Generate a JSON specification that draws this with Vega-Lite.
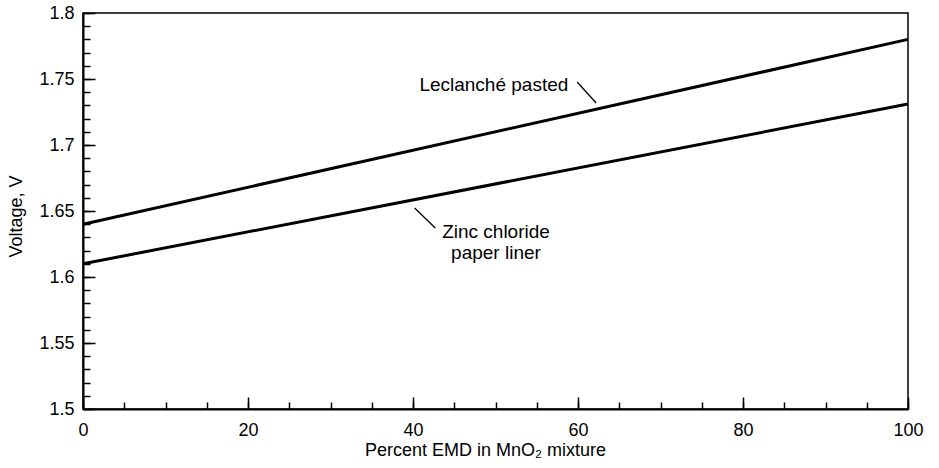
{
  "$schema": "https://vega.github.io/schema/vega-lite/v6.json",
  "autosize": "none",
  "width": 825,
  "height": 396,
  "padding": {"left": 83, "top": 13, "right": 31, "bottom": 59},
  "background": "white",
  "config": {
    "font": "Liberation Sans",
    "view": {"stroke": "black", "strokeWidth": 1.5},
    "axis": {"labelColor": "black", "titleColor": "black", "domainColor": "black", "tickColor": "black", "grid": false, "labelFont": "Liberation Sans", "titleFont": "Liberation Sans", "titleFontWeight": "normal"}
  },
  "datasets": {
    "lines": [
      {"series": "Leclanché pasted", "pct": 0, "v": 1.64},
      {"series": "Leclanché pasted", "pct": 100, "v": 1.78},
      {"series": "Zinc chloride paper liner", "pct": 0, "v": 1.61},
      {"series": "Zinc chloride paper liner", "pct": 100, "v": 1.731}
    ],
    "leaders": [
      {"series": "Leclanché pasted", "x": 59.9, "y": 1.7477, "x2": 62.2, "y2": 1.7318},
      {"series": "Zinc chloride paper liner", "x": 40.2, "y": 1.6523, "x2": 42.7, "y2": 1.6371}
    ],
    "labels": [
      {"label": "Leclanché pasted", "x": 49.8, "y": 1.7455},
      {"label": "Zinc chloride", "x": 50.06, "y": 1.6341},
      {"label": "paper liner", "x": 50.06, "y": 1.6182}
    ]
  },
  "resolve": {"axis": {"x": "independent", "y": "independent"}},
  "layer": [
    {
      "data": {"name": "lines"},
      "mark": {"type": "line", "color": "black", "strokeWidth": 3},
      "encoding": {
        "x": {"field": "pct", "type": "quantitative", "scale": {"domain": [0, 100], "nice": false},
          "axis": {"orient": "bottom", "values": [0, 20, 40, 60, 80, 100], "tickSize": -12, "tickWidth": 1.5, "domainWidth": 2, "labelFontSize": 18, "labelPadding": 24, "labelFlush": false,
            "title": "Percent EMD in MnO₂ mixture", "titleFontSize": 18, "titleX": 402, "titleY": 41, "titleAlign": "center", "titleBaseline": "middle"}},
        "y": {"field": "v", "type": "quantitative", "scale": {"domain": [1.5, 1.8], "nice": false, "zero": false},
          "axis": {"orient": "left", "values": [1.5, 1.55, 1.6, 1.65, 1.7, 1.75, 1.8], "tickSize": -12, "tickWidth": 1.5, "domainWidth": 2, "labelFontSize": 18, "labelPadding": 21, "labelFlush": false, "labelExpr": "format(datum.value, '.3~f')",
            "title": "Voltage, V", "titleFontSize": 18, "titleX": -67, "titleY": 203, "titleAngle": 270, "titleAlign": "center", "titleBaseline": "middle"}},
        "detail": {"field": "series", "type": "nominal"}
      }
    },
    {
      "data": {"name": "leaders"},
      "mark": {"type": "rule", "color": "black", "strokeWidth": 1.3},
      "encoding": {
        "x": {"field": "x", "type": "quantitative",
          "axis": {"orient": "bottom", "values": [0, 5, 10, 15, 20, 25, 30, 35, 40, 45, 50, 55, 60, 65, 70, 75, 80, 85, 90, 95, 100], "tickSize": -7, "tickWidth": 1.5, "labels": false, "domain": false, "title": null}},
        "y": {"field": "y", "type": "quantitative",
          "axis": {"orient": "left", "values": [1.5, 1.51, 1.52, 1.53, 1.54, 1.55, 1.56, 1.57, 1.58, 1.59, 1.6, 1.61, 1.62, 1.63, 1.64, 1.65, 1.66, 1.67, 1.68, 1.69, 1.7, 1.71, 1.72, 1.73, 1.74, 1.75, 1.76, 1.77, 1.78, 1.79, 1.8], "tickSize": -7, "tickWidth": 1.5, "labels": false, "domain": false, "title": null}},
        "x2": {"field": "x2"},
        "y2": {"field": "y2"}
      }
    },
    {
      "data": {"name": "labels"},
      "mark": {"type": "text", "fontSize": 19, "font": "Liberation Sans", "color": "black", "align": "center", "baseline": "middle"},
      "encoding": {
        "x": {"field": "x", "type": "quantitative", "axis": null},
        "y": {"field": "y", "type": "quantitative", "axis": null},
        "text": {"field": "label"}
      }
    }
  ]
}
